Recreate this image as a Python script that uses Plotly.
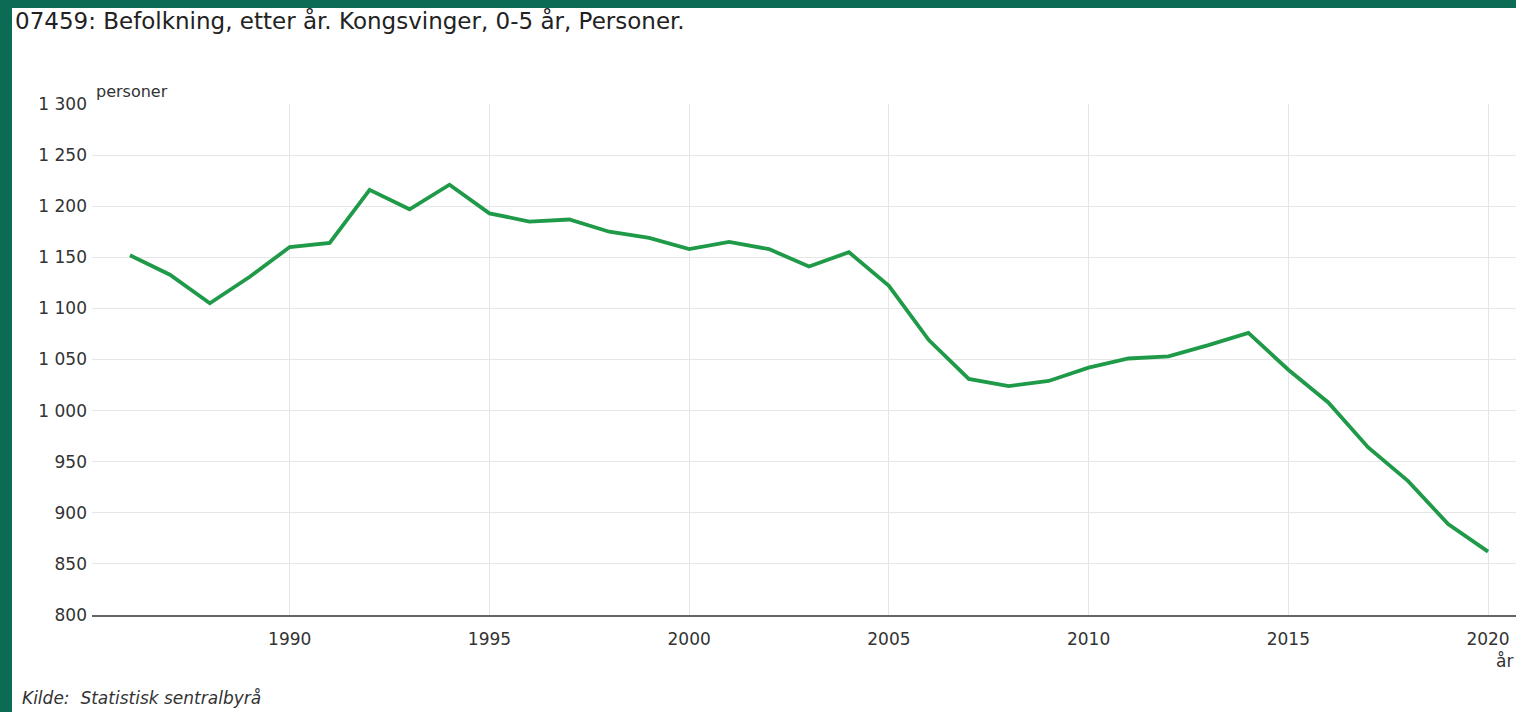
import plotly.graph_objects as go

years = list(range(1986, 2021))
persons = [1152, 1133, 1105, 1131, 1160, 1164, 1216, 1197, 1221, 1193,
           1185, 1187, 1175, 1169, 1158, 1165, 1158, 1141, 1155, 1122,
           1069, 1031, 1024, 1029, 1042, 1051, 1053, 1064, 1076, 1040,
           1008, 964, 931, 889, 862]

y_tickvals = [800, 850, 900, 950, 1000, 1050, 1100, 1150, 1200, 1250, 1300]
y_ticktext = ["800", "850", "900", "950", "1 000", "1 050", "1 100", "1 150", "1 200", "1 250", "1 300"]
x_tickvals = [1990, 1995, 2000, 2005, 2010, 2015, 2020]

title_text = "07459: Befolkning, etter år. Kongsvinger, 0-5 år, Personer."
source_text = "Kilde:  Statistisk sentralbyrå"

W, H = 1516, 712
L, R, T, B = 92, 0, 104, 97
pw, ph = W - L - R, H - T - B

def px_x(p):
    return (p - L) / pw

def px_y(p):
    return (H - B - p) / ph

fig = go.Figure()
fig.add_trace(go.Scatter(
    x=years, y=persons, mode="lines",
    line=dict(color="#1f9a48", width=3.8),
    hoverinfo="x+y", showlegend=False,
))

font = "DejaVu Sans, Arial, sans-serif"

fig.update_layout(
    width=W, height=H,
    margin=dict(l=L, r=R, t=T, b=B, pad=0),
    paper_bgcolor="#0b6b55",
    plot_bgcolor="white",
    font=dict(family=font, size=17, color="#333333"),
    xaxis=dict(
        range=[1985.05, 2020.7],
        tickvals=x_tickvals,
        showgrid=True, gridcolor="#e6e6e6", gridwidth=1,
        zeroline=False,
        showline=True, linecolor="#666666", linewidth=2,
        ticks="", ticklabelstandoff=8,
        tickfont=dict(size=17, color="#333333"),
    ),
    yaxis=dict(
        range=[800, 1300],
        tickvals=y_tickvals, ticktext=y_ticktext,
        showgrid=True, gridcolor="#e6e6e6", gridwidth=1,
        zeroline=False, showline=False,
        ticks="", ticklabelstandoff=4,
        tickfont=dict(size=17, color="#333333"),
    ),
    shapes=[dict(
        type="rect", xref="paper", yref="paper", layer="below",
        x0=px_x(12), x1=px_x(W + 20), y0=px_y(8), y1=px_y(H + 20),
        fillcolor="white", line=dict(width=0),
    )],
    annotations=[
        dict(text=title_text, xref="paper", yref="paper",
             x=px_x(13), y=px_y(20), xanchor="left", yanchor="middle",
             showarrow=False, font=dict(size=23, color="#222222")),
        dict(text="personer", xref="paper", yref="paper",
             x=px_x(94), y=px_y(91), xanchor="left", yanchor="middle",
             showarrow=False, font=dict(size=16, color="#333333")),
        dict(text="år", xref="paper", yref="paper",
             x=px_x(1515), y=px_y(661), xanchor="right", yanchor="middle",
             showarrow=False, font=dict(size=17, color="#333333")),
        dict(text="<i>" + source_text + "</i>", xref="paper", yref="paper",
             x=px_x(20), y=px_y(698), xanchor="left", yanchor="middle",
             showarrow=False, font=dict(size=17, color="#333333")),
    ],
)

fig.write_html(
    "out.html",
    config={"displayModeBar": False},
    post_script="document.body.style.margin='0';document.body.style.overflow='hidden';",
)
